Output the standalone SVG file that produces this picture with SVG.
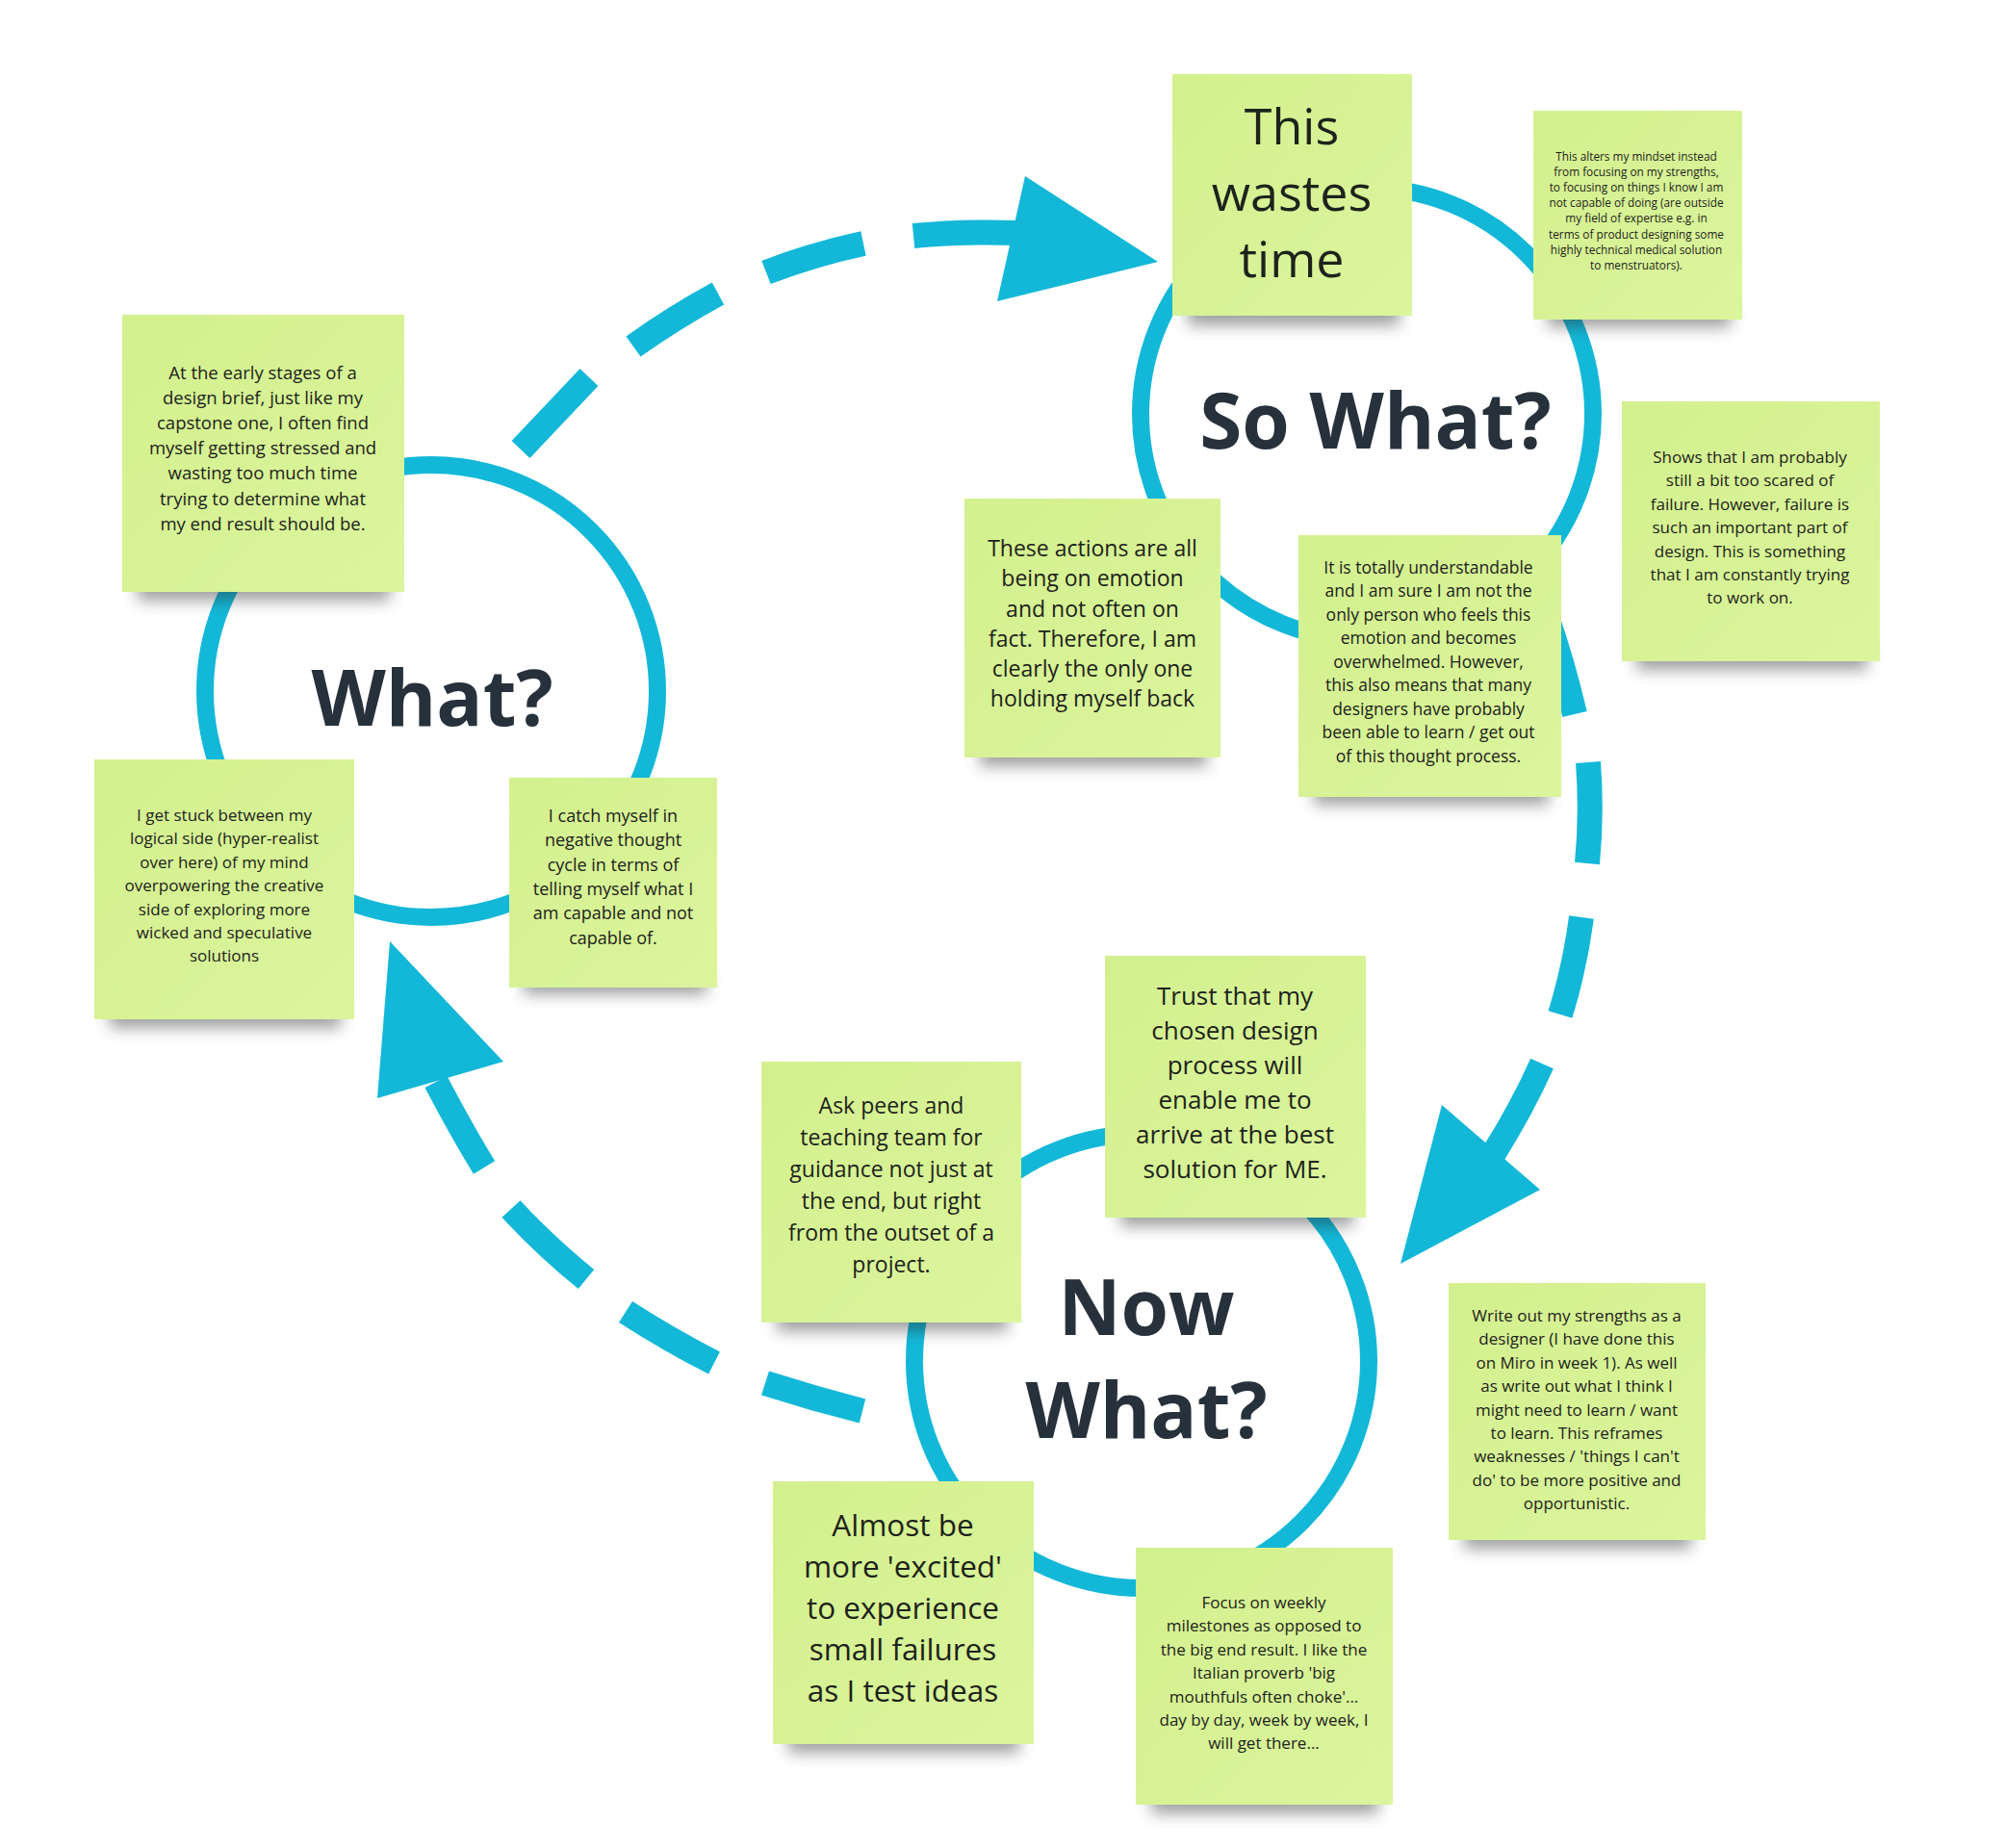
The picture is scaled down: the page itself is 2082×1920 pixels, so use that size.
<svg xmlns="http://www.w3.org/2000/svg" width="2082" height="1920" viewBox="0 0 2082 1920">
<defs>
<filter id="blur" x="-20%" y="-100%" width="140%" height="300%"><feGaussianBlur stdDeviation="8"/></filter>
<linearGradient id="paper" x1="0" y1="0" x2="1" y2="1"><stop offset="0" stop-color="#d3f08e"/><stop offset="1" stop-color="#dbf59d"/></linearGradient>
</defs>
<style>
.ring{fill:none;stroke:#13b8d8;stroke-width:18}
.dash{fill:none;stroke:#13b8d8;stroke-width:26;stroke-linecap:butt}
.head{fill:#13b8d8}
.shadow{fill:#2a2a2a;opacity:.45;filter:url(#blur)}
.note{fill:url(#paper)}
.t{font-family:"Open Sans","Noto Sans","Liberation Sans",sans-serif;fill:#1d231b;text-anchor:middle}
.big{font-family:"Open Sans","Noto Sans","Liberation Sans",sans-serif;font-weight:700;fill:#26313b;text-anchor:middle;font-size:80px}
</style>
<rect width="2082" height="1920" fill="#ffffff"/>

<g id="rings">
<circle class="ring" cx="448" cy="718" r="235"/>
<circle class="ring" cx="1420" cy="430" r="235"/>
<circle class="ring" cx="1186" cy="1414" r="236"/>
</g>

<g id="connectors">
<path class="dash" d="M541,467 L612,392 M658,360 Q700,330 746,305 M796,283 Q845,264 897,253 M949,245 Q1000,240 1055,242"/>
<polygon class="head" points="1065,183 1203,272 1036,313"/>
<path class="dash" d="M1606,638 Q1624,690 1636,742 M1650,792 Q1654,845 1649,897 M1643,953 Q1636,1005 1621,1054 M1602,1105 Q1582,1150 1552,1198"/>
<polygon class="head" points="1498,1148 1600,1236 1455,1313"/>
<path class="dash" d="M896,1466 Q845,1453 795,1437 M742,1416 Q695,1392 650,1363 M609,1329 Q567,1295 531,1256 M503,1213 Q478,1172 453,1124"/>
<polygon class="head" points="405,978 523,1103 392,1141"/>
</g>

<g id="title-what"><text class="big" x="449" y="754">What?</text></g>
<g id="title-sowhat"><text class="big" x="1429" y="466">So What?</text></g>
<g id="title-nowwhat"><text class="big" x="1191" y="1387">Now</text><text class="big" x="1191" y="1494">What?</text></g>

<g id="note-wastes">
<rect class="shadow" x="1234" y="308" width="220" height="30"/>
<rect class="note" x="1218" y="77" width="249" height="251"/>
<text class="t" font-size="52"><tspan x="1342" y="150">This</tspan><tspan x="1342" y="219">wastes</tspan><tspan x="1342" y="288">time</tspan></text>
</g>

<g id="note-alters">
<rect class="shadow" x="1608" y="312" width="190" height="28"/>
<rect class="note" x="1593" y="115" width="217" height="217"/>
<text class="t" font-size="11.8"><tspan x="1700" y="167">This alters my mindset instead</tspan><tspan x="1700" y="183">from focusing on my strengths,</tspan><tspan x="1700" y="199">to focusing on things I know I am</tspan><tspan x="1700" y="215">not capable of doing (are outside</tspan><tspan x="1700" y="231">my field of expertise e.g. in</tspan><tspan x="1700" y="248">terms of product designing some</tspan><tspan x="1700" y="264">highly technical medical solution</tspan><tspan x="1700" y="280">to menstruators).</tspan></text>
</g>

<g id="note-shows">
<rect class="shadow" x="1700" y="666" width="240" height="30"/>
<rect class="note" x="1685" y="417" width="268" height="270"/>
<text class="t" font-size="17"><tspan x="1818" y="481">Shows that I am probably</tspan><tspan x="1818" y="505">still a bit too scared of</tspan><tspan x="1818" y="530">failure. However, failure is</tspan><tspan x="1818" y="554">such an important part of</tspan><tspan x="1818" y="579">design. This is something</tspan><tspan x="1818" y="603">that I am constantly trying</tspan><tspan x="1818" y="627">to work on.</tspan></text>
</g>

<g id="note-understandable">
<rect class="shadow" x="1365" y="806" width="244" height="30"/>
<rect class="note" x="1349" y="556" width="273" height="272"/>
<text class="t" font-size="17.5"><tspan x="1484" y="596">It is totally understandable</tspan><tspan x="1484" y="620">and I am sure I am not the</tspan><tspan x="1484" y="645">only person who feels this</tspan><tspan x="1484" y="669">emotion and becomes</tspan><tspan x="1484" y="694">overwhelmed. However,</tspan><tspan x="1484" y="718">this also means that many</tspan><tspan x="1484" y="743">designers have probably</tspan><tspan x="1484" y="767">been able to learn / get out</tspan><tspan x="1484" y="792">of this thought process.</tspan></text>
</g>

<g id="note-emotion">
<rect class="shadow" x="1018" y="766" width="236" height="30"/>
<rect class="note" x="1002" y="518" width="266" height="269"/>
<text class="t" font-size="23"><tspan x="1135" y="578">These actions are all</tspan><tspan x="1135" y="609">being on emotion</tspan><tspan x="1135" y="641">and not often on</tspan><tspan x="1135" y="672">fact. Therefore, I am</tspan><tspan x="1135" y="703">clearly the only one</tspan><tspan x="1135" y="734">holding myself back</tspan></text>
</g>

<g id="note-early">
<rect class="shadow" x="143" y="594" width="262" height="30"/>
<rect class="note" x="127" y="327" width="293" height="288"/>
<text class="t" font-size="18.5"><tspan x="273" y="394">At the early stages of a</tspan><tspan x="273" y="420">design brief, just like my</tspan><tspan x="273" y="446">capstone one, I often find</tspan><tspan x="273" y="472">myself getting stressed and</tspan><tspan x="273" y="498">wasting too much time</tspan><tspan x="273" y="525">trying to determine what</tspan><tspan x="273" y="551">my end result should be.</tspan></text>
</g>

<g id="note-stuck">
<rect class="shadow" x="114" y="1038" width="240" height="30"/>
<rect class="note" x="98" y="789" width="270" height="270"/>
<text class="t" font-size="17"><tspan x="233" y="853">I get stuck between my</tspan><tspan x="233" y="877">logical side (hyper-realist</tspan><tspan x="233" y="902">over here) of my mind</tspan><tspan x="233" y="926">overpowering the creative</tspan><tspan x="233" y="951">side of exploring more</tspan><tspan x="233" y="975">wicked and speculative</tspan><tspan x="233" y="999">solutions</tspan></text>
</g>

<g id="note-catch">
<rect class="shadow" x="544" y="1005" width="190" height="28"/>
<rect class="note" x="529" y="808" width="216" height="218"/>
<text class="t" font-size="18"><tspan x="637" y="854">I catch myself in</tspan><tspan x="637" y="879">negative thought</tspan><tspan x="637" y="905">cycle in terms of</tspan><tspan x="637" y="930">telling myself what I</tspan><tspan x="637" y="955">am capable and not</tspan><tspan x="637" y="981">capable of.</tspan></text>
</g>

<g id="note-trust">
<rect class="shadow" x="1164" y="1244" width="242" height="30"/>
<rect class="note" x="1148" y="993" width="271" height="272"/>
<text class="t" font-size="26"><tspan x="1283" y="1044">Trust that my</tspan><tspan x="1283" y="1080">chosen design</tspan><tspan x="1283" y="1116">process will</tspan><tspan x="1283" y="1152">enable me to</tspan><tspan x="1283" y="1188">arrive at the best</tspan><tspan x="1283" y="1224">solution for ME.</tspan></text>
</g>

<g id="note-peers">
<rect class="shadow" x="807" y="1353" width="240" height="30"/>
<rect class="note" x="791" y="1103" width="270" height="271"/>
<text class="t" font-size="23"><tspan x="926" y="1157">Ask peers and</tspan><tspan x="926" y="1190">teaching team for</tspan><tspan x="926" y="1223">guidance not just at</tspan><tspan x="926" y="1256">the end, but right</tspan><tspan x="926" y="1289">from the outset of a</tspan><tspan x="926" y="1322">project.</tspan></text>
</g>

<g id="note-excited">
<rect class="shadow" x="819" y="1791" width="240" height="30"/>
<rect class="note" x="803" y="1539" width="271" height="273"/>
<text class="t" font-size="31.5"><tspan x="938" y="1596">Almost be</tspan><tspan x="938" y="1639">more 'excited'</tspan><tspan x="938" y="1682">to experience</tspan><tspan x="938" y="1725">small failures</tspan><tspan x="938" y="1768">as I test ideas</tspan></text>
</g>

<g id="note-weekly">
<rect class="shadow" x="1196" y="1854" width="236" height="30"/>
<rect class="note" x="1180" y="1608" width="267" height="267"/>
<text class="t" font-size="17"><tspan x="1313" y="1671">Focus on weekly</tspan><tspan x="1313" y="1695">milestones as opposed to</tspan><tspan x="1313" y="1720">the big end result. I like the</tspan><tspan x="1313" y="1744">Italian proverb 'big</tspan><tspan x="1313" y="1769">mouthfuls often choke'...</tspan><tspan x="1313" y="1793">day by day, week by week, I</tspan><tspan x="1313" y="1817">will get there...</tspan></text>
</g>

<g id="note-strengths">
<rect class="shadow" x="1521" y="1579" width="236" height="30"/>
<rect class="note" x="1505" y="1333" width="267" height="267"/>
<text class="t" font-size="17"><tspan x="1638" y="1373">Write out my strengths as a</tspan><tspan x="1638" y="1397">designer (I have done this</tspan><tspan x="1638" y="1422">on Miro in week 1). As well</tspan><tspan x="1638" y="1446">as write out what I think I</tspan><tspan x="1638" y="1471">might need to learn / want</tspan><tspan x="1638" y="1495">to learn. This reframes</tspan><tspan x="1638" y="1519">weaknesses / 'things I can't</tspan><tspan x="1638" y="1544">do' to be more positive and</tspan><tspan x="1638" y="1568">opportunistic.</tspan></text>
</g>
</svg>
